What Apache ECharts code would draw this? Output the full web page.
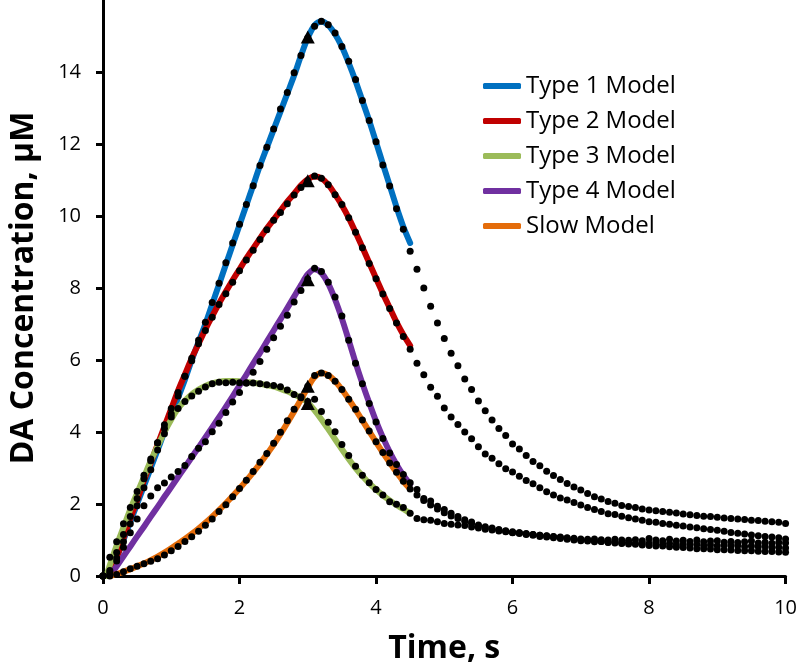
<!DOCTYPE html>
<html><head><meta charset="utf-8">
<script src="https://cdn.jsdelivr.net/npm/echarts@6/dist/echarts.min.js"></script>
<style>html,body{margin:0;padding:0;background:#fff}#c{width:800px;height:670px}</style>
</head><body><div id="c"></div>
<script>
// Sample times of the measured points (s)
const timeS = [0,0.1,0.2,0.3,0.4,0.5,0.6,0.7,0.8,0.9,1,1.1,1.2,1.3,1.4,1.5,1.6,1.7,1.8,1.9,2,2.1,2.2,2.3,2.4,2.5,2.6,2.7,2.8,2.9,3,3.1,3.2,3.3,3.4,3.5,3.6,3.7,3.8,3.9,4,4.1,4.2,4.3,4.4,4.5,4.6,4.7,4.8,4.9,5,5.1,5.2,5.3,5.4,5.5,5.6,5.7,5.8,5.9,6,6.1,6.2,6.3,6.4,6.5,6.6,6.7,6.8,6.9,7,7.1,7.2,7.3,7.4,7.5,7.6,7.7,7.8,7.9,8,8.1,8.2,8.3,8.4,8.5,8.6,8.7,8.8,8.9,9,9.1,9.2,9.3,9.4,9.5,9.6,9.7,9.8,9.9,10];

// Measured DA concentration (black dots), uM
const dotsType1 = [0,0.05,0.5,0.95,1.45,1.95,2.45,2.95,3.5,3.95,
 4.5,5.0,5.55,6.05,6.55,7.05,7.6,8.13,8.7,9.25,
 9.77,10.32,10.84,11.4,11.91,12.42,12.97,13.43,13.98,14.46,
 14.95,15.27,15.41,15.31,15.08,14.71,14.3,13.79,13.21,12.65,
 12.06,11.42,10.83,10.2,9.63,9.02,8.52,8.0,7.49,7.03,
 6.6,6.19,5.84,5.47,5.18,4.86,4.59,4.33,4.1,3.9,
 3.67,3.53,3.35,3.18,3.06,2.91,2.79,2.68,2.57,2.47,
 2.39,2.29,2.2,2.14,2.07,2.02,1.96,1.93,1.9,1.86,
 1.83,1.81,1.79,1.77,1.75,1.72,1.7,1.68,1.66,1.65,
 1.63,1.61,1.6,1.58,1.57,1.55,1.54,1.52,1.51,1.49,
 1.46];
const dotsType2 = [0,0.15,0.65,1.15,1.65,2.15,2.7,3.2,3.7,4.2,
 4.65,5.1,5.55,5.98,6.45,6.82,7.19,7.54,7.84,8.16,
 8.48,8.78,9.05,9.35,9.62,9.88,10.1,10.34,10.58,10.79,
 10.98,11.11,11.05,10.87,10.59,10.32,9.95,9.55,9.12,8.68,
 8.26,7.83,7.43,7.03,6.65,6.3,5.91,5.59,5.24,4.99,
 4.67,4.42,4.21,4.0,3.81,3.59,3.39,3.27,3.12,2.98,
 2.89,2.77,2.65,2.56,2.45,2.34,2.25,2.17,2.11,2.04,
 1.97,1.9,1.85,1.79,1.73,1.71,1.66,1.62,1.58,1.55,
 1.51,1.49,1.46,1.44,1.41,1.39,1.36,1.34,1.31,1.29,
 1.27,1.24,1.21,1.19,1.17,1.14,1.12,1.1,1.08,1.06,
 1.03];
const dotsType3 = [0,0.52,0.95,1.45,1.9,2.35,2.8,3.25,3.7,4.1,
 4.42,4.65,4.85,5.0,5.13,5.25,5.34,5.38,5.37,5.38,
 5.37,5.36,5.36,5.34,5.31,5.29,5.26,5.17,5.04,4.98,
 4.85,4.91,4.57,4.27,4.01,3.65,3.35,3.05,2.8,2.59,
 2.4,2.25,2.06,1.99,1.9,1.74,1.6,1.56,1.55,1.51,
 1.46,1.44,1.42,1.4,1.36,1.33,1.3,1.28,1.25,1.24,
 1.21,1.2,1.17,1.15,1.13,1.11,1.09,1.07,1.05,1.02,
 1.01,0.99,0.97,0.96,0.94,0.92,0.9,0.89,0.88,0.86,
 0.85,0.83,0.83,0.81,0.8,0.79,0.78,0.76,0.76,0.75,
 0.73,0.73,0.72,0.71,0.7,0.7,0.69,0.68,0.68,0.67,
 0.66];
const dotsType4 = [0,0.1,0.42,0.8,1.2,1.58,1.95,2.22,2.45,2.58,
 2.75,2.9,3.07,3.32,3.55,3.73,4.01,4.24,4.54,4.83,
 5.1,5.36,5.66,5.96,6.3,6.62,6.94,7.24,7.61,7.93,
 8.25,8.55,8.46,8.16,7.75,7.22,6.55,5.91,5.34,4.79,
 4.28,3.82,3.42,3.1,2.82,2.59,2.4,2.15,2.08,1.94,
 1.85,1.74,1.65,1.56,1.5,1.42,1.37,1.33,1.29,1.26,
 1.23,1.2,1.18,1.15,1.13,1.12,1.1,1.08,1.06,1.05,
 1.03,1.02,1.03,1.01,1.0,1.02,1.0,0.99,1.01,0.98,
 1.04,1.0,0.98,1.02,0.97,0.99,0.96,1.0,0.95,0.97,
 0.98,0.94,0.96,0.93,0.95,0.97,0.92,0.94,0.91,0.93,
 0.92];
const dotsSlow = [0,0,0.04,0.12,0.2,0.27,0.34,0.41,0.48,0.58,
 0.7,0.82,0.96,1.09,1.24,1.41,1.58,1.79,1.98,2.2,
 2.43,2.66,2.9,3.16,3.4,3.69,3.99,4.31,4.63,4.95,
 5.27,5.57,5.64,5.57,5.41,5.18,4.91,4.63,4.33,4.03,
 3.73,3.43,3.14,2.88,2.63,2.42,2.25,2.1,1.97,1.86,
 1.76,1.67,1.6,1.52,1.46,1.39,1.34,1.3,1.27,1.23,
 1.2,1.18,1.15,1.13,1.1,1.08,1.06,1.04,1.02,1.0,
 0.98,0.97,0.95,0.96,0.93,0.95,0.92,0.93,0.9,0.92,
 0.9,0.93,0.88,0.9,0.87,0.89,0.86,0.88,0.85,0.86,
 0.84,0.86,0.83,0.85,0.82,0.83,0.81,0.82,0.79,0.8,
 0.78];

// Model curves (coloured lines), 0.05 - 4.5 s
const modelTime = [0.05,0.1,0.2,0.3,0.4,0.5,0.6,0.7,0.8,0.9,1,1.1,1.2,1.3,1.4,1.5,1.6,1.7,1.8,1.9,2,2.1,2.2,2.3,2.4,2.5,2.6,2.7,2.8,2.9,3,3.1,3.2,3.3,3.4,3.5,3.6,3.7,3.8,3.9,4,4.1,4.2,4.3,4.4,4.5];
const modelType1 = [null,0,0.5,1.0,1.5,2.0,2.5,3.0,3.5,4.0,
 4.45,4.95,5.45,6.0,6.5,7.0,7.55,8.1,8.65,9.2,
 9.75,10.3,10.85,11.4,11.9,12.4,12.9,13.4,13.9,14.45,
 14.95,15.3,15.4,15.3,15.05,14.7,14.25,13.75,13.2,12.65,
 12.05,11.45,10.85,10.25,9.7,9.25];
const modelType2 = [null,0,0.5,1.05,1.6,2.1,2.65,3.15,3.65,4.15,
 4.65,5.15,5.6,6.05,6.45,6.85,7.22,7.57,7.9,8.22,
 8.52,8.82,9.1,9.38,9.65,9.9,10.15,10.4,10.62,10.85,
 11.02,11.1,11.05,10.87,10.6,10.3,9.95,9.55,9.13,8.7,
 8.27,7.85,7.45,7.05,6.7,6.4];
const modelType3 = [0,0.3,0.85,1.35,1.85,2.3,2.75,3.2,3.6,4.0,
 4.35,4.65,4.87,5.05,5.18,5.28,5.35,5.4,5.42,5.42,
 5.41,5.39,5.37,5.34,5.3,5.26,5.2,5.13,5.04,4.95,
 4.82,4.6,4.35,4.08,3.8,3.52,3.25,3.0,2.78,2.58,
 2.4,2.24,2.1,1.97,1.86,1.74];
const modelType4 = [null,0,0.27,0.55,0.82,1.1,1.37,1.65,1.92,2.2,
 2.47,2.75,3.02,3.3,3.57,3.85,4.13,4.41,4.7,4.99,
 5.29,5.59,5.9,6.2,6.51,6.82,7.13,7.44,7.76,8.08,
 8.38,8.52,8.42,8.12,7.68,7.15,6.55,5.93,5.35,4.81,
 4.3,3.85,3.45,3.1,2.8,2.55];
const modelSlow = [null,0,0.05,0.12,0.19,0.27,0.35,0.44,0.54,0.65,
 0.77,0.9,1.03,1.17,1.32,1.48,1.65,1.83,2.02,2.22,
 2.43,2.65,2.88,3.12,3.38,3.65,3.94,4.25,4.57,4.9,
 5.24,5.53,5.64,5.58,5.41,5.18,4.91,4.62,4.32,4.02,
 3.72,3.43,3.15,2.88,2.63,2.42];

// Stimulus-end markers (black triangles)
const markerTime = [3.0,3.0,3.0,3.0,3.0];
const markerValue = [14.97,10.98,8.23,5.27,4.79];

const modelNames = ['Type 1 Model','Type 2 Model','Type 3 Model','Type 4 Model','Slow Model'];
const modelColors = ['#0070C0','#C00000','#9BBB59','#7030A0','#E46C0A'];
const xTicks = {min:0,max:10,interval:2};
const yTicks = {min:0,max:16,interval:2};

const FONT = 'Open Sans';
const zip = (xs, ys) => xs.map((x,i)=>[x, ys[i]]);

const models = [modelType1, modelType2, modelType3, modelType4, modelSlow];
const dots = [dotsType1, dotsType2, dotsType3, dotsType4, dotsSlow];

const series = [];
models.forEach((m,i)=>{
  series.push({
    name: modelNames[i], type:'line', data: zip(modelTime, m),
    showSymbol:false, symbol:'none', smooth:0.3, z:2,
    color: modelColors[i],
    lineStyle:{color:modelColors[i], width:6, cap:'round', join:'round'}
  });
});
dots.forEach((d,i)=>{
  series.push({
    name:'data'+i, type:'scatter', data: zip(timeS, d),
    symbol:'circle', symbolSize:7, z:3,
    itemStyle:{color:'#000', opacity:1}
  });
});
series.push({
  name:'markers', type:'scatter', data: zip(markerTime, markerValue),
  symbol:'triangle', symbolSize:[14,13], z:4, itemStyle:{color:'#000', opacity:1}
});

const chart = echarts.init(document.getElementById('c'), null, {renderer:'canvas'});
chart.setOption({
  animation:false,
  backgroundColor:'#fff',
  grid:{left:102, right:13, top:-2, bottom:91, containLabel:false},
  legend:{
    data: modelNames, orient:'vertical', left:478, top:69,
    itemWidth:38, itemHeight:6, itemGap:11, icon:'roundRect',
    textStyle:{fontFamily:FONT, fontSize:24, color:'#000'}
  },
  xAxis:{
    type:'value', min:xTicks.min, max:xTicks.max, interval:xTicks.interval,
    name:'Time, s', nameLocation:'middle', nameGap:57,
    nameTextStyle:{fontFamily:FONT, fontSize:32, fontWeight:'bold', color:'#000'},
    axisLine:{show:true, onZero:false, lineStyle:{color:'#000', width:3}},
    axisTick:{show:true, inside:false, length:8, lineStyle:{color:'#000', width:3}},
    axisLabel:{fontFamily:FONT, fontSize:20, color:'#000', margin:22},
    splitLine:{show:false}
  },
  yAxis:{
    type:'value', min:yTicks.min, max:yTicks.max, interval:yTicks.interval,
    name:'DA Concentration, µM', nameLocation:'middle', nameGap:63,
    nameTextStyle:{fontFamily:FONT, fontSize:32, fontWeight:'bold', color:'#000'},
    axisLine:{show:true, onZero:false, lineStyle:{color:'#000', width:3}},
    axisTick:{show:true, inside:false, length:7, lineStyle:{color:'#000', width:3}},
    axisLabel:{fontFamily:FONT, fontSize:20, color:'#000', margin:22, showMaxLabel:false},
    splitLine:{show:false}
  },
  series: series
});
</script>
</body></html>
